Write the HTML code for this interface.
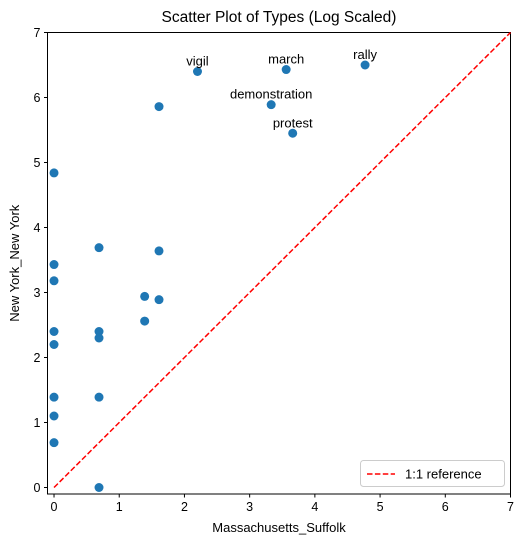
<!DOCTYPE html>
<html><head><meta charset="utf-8"><style>
body{margin:0;background:#fff;}
svg{display:block;font-family:"Liberation Sans","DejaVu Sans",sans-serif;}
</style></head><body>
<svg id="chart" width="524" height="547"></svg>
<script>
const xs=[0,0,0,0,0,0,0,0,0.69,0.69,0.69,0.69,0.69,1.61,1.39,1.61,1.39,1.61,2.20,3.56,4.77,3.33,3.66];
const ys=[4.84,3.43,3.18,2.40,2.20,1.39,1.10,0.69,3.69,2.40,2.30,1.39,0,3.64,2.94,2.89,2.56,5.86,6.40,6.43,6.50,5.89,5.45];
const labels=["","","","","","","","","","","","","","","","","","","vigil","march","rally","demonstration","protest"];
const ticks=[0,1,2,3,4,5,6,7];
const NS="http://www.w3.org/2000/svg";
const svg=document.getElementById('chart');
const L=47.5,R=510.5,T=32.5,B=494,lo=-0.1,hi=7;
const sx=v=>L+(v-lo)/(hi-lo)*(R-L);
const sy=v=>B-(v-lo)/(hi-lo)*(B-T);
function mk(tag,attrs,parent){const e=document.createElementNS(NS,tag);for(const k in attrs)e.setAttribute(k,attrs[k]);(parent||svg).appendChild(e);return e;}
const frame=mk('rect',{x:L,y:T,width:R-L,height:B-T,fill:'none',stroke:'#000','stroke-width':1});


const ref=mk('line',{x1:sx(0),y1:sy(0),x2:sx(7),y2:sy(7),stroke:'#ff0000','stroke-width':1.5,'stroke-dasharray':'5.5,2.4'});


ticks.forEach(t=>{
  const a=mk('line',{x1:sx(t),x2:sx(t),y1:B,y2:B+3.5,stroke:'#000'});
  
  
  const at=mk('text',{x:sx(t),y:B+17,'text-anchor':'middle','font-size':12.5});at.textContent=t;
  
  
  const b=mk('line',{x1:L-3.5,x2:L,y1:sy(t),y2:sy(t),stroke:'#000'});
  
  
  const bt=mk('text',{x:L-7,y:sy(t)+4.5,'text-anchor':'end','font-size':12.5});bt.textContent=t;
  
  
});
xs.forEach((x,i)=>{
  const c=mk('circle',{cx:sx(x),cy:sy(ys[i]),r:4.5,fill:'#1f77b4'});
  
  
  if(labels[i]){
    const t=mk('text',{x:sx(x),y:sy(ys[i])-6,'text-anchor':'middle','font-size':13});t.textContent=labels[i];
    
    
  }
});
const title=mk('text',{x:(L+R)/2,y:22,'text-anchor':'middle','font-size':15.5});title.textContent='Scatter Plot of Types (Log Scaled)';


const xl=mk('text',{x:(L+R)/2,y:532,'text-anchor':'middle','font-size':13});xl.textContent='Massachusetts_Suffolk';


const yl=mk('text',{x:19,y:(T+B)/2,'text-anchor':'middle','font-size':13,transform:`rotate(-90 19 ${(T+B)/2})`});yl.textContent='New York_New York';


const lg=mk('g',{});


mk('rect',{x:360.5,y:460.5,width:144,height:26,rx:3,fill:'#fff',stroke:'#ccc'},lg);
mk('line',{x1:367,x2:395,y1:474,y2:474,stroke:'#ff0000','stroke-width':1.5,'stroke-dasharray':'5.5,2.4'},lg);
const lt=mk('text',{x:405,y:478.5,'font-size':13},lg);lt.textContent='1:1 reference';


</script>
</body></html>
